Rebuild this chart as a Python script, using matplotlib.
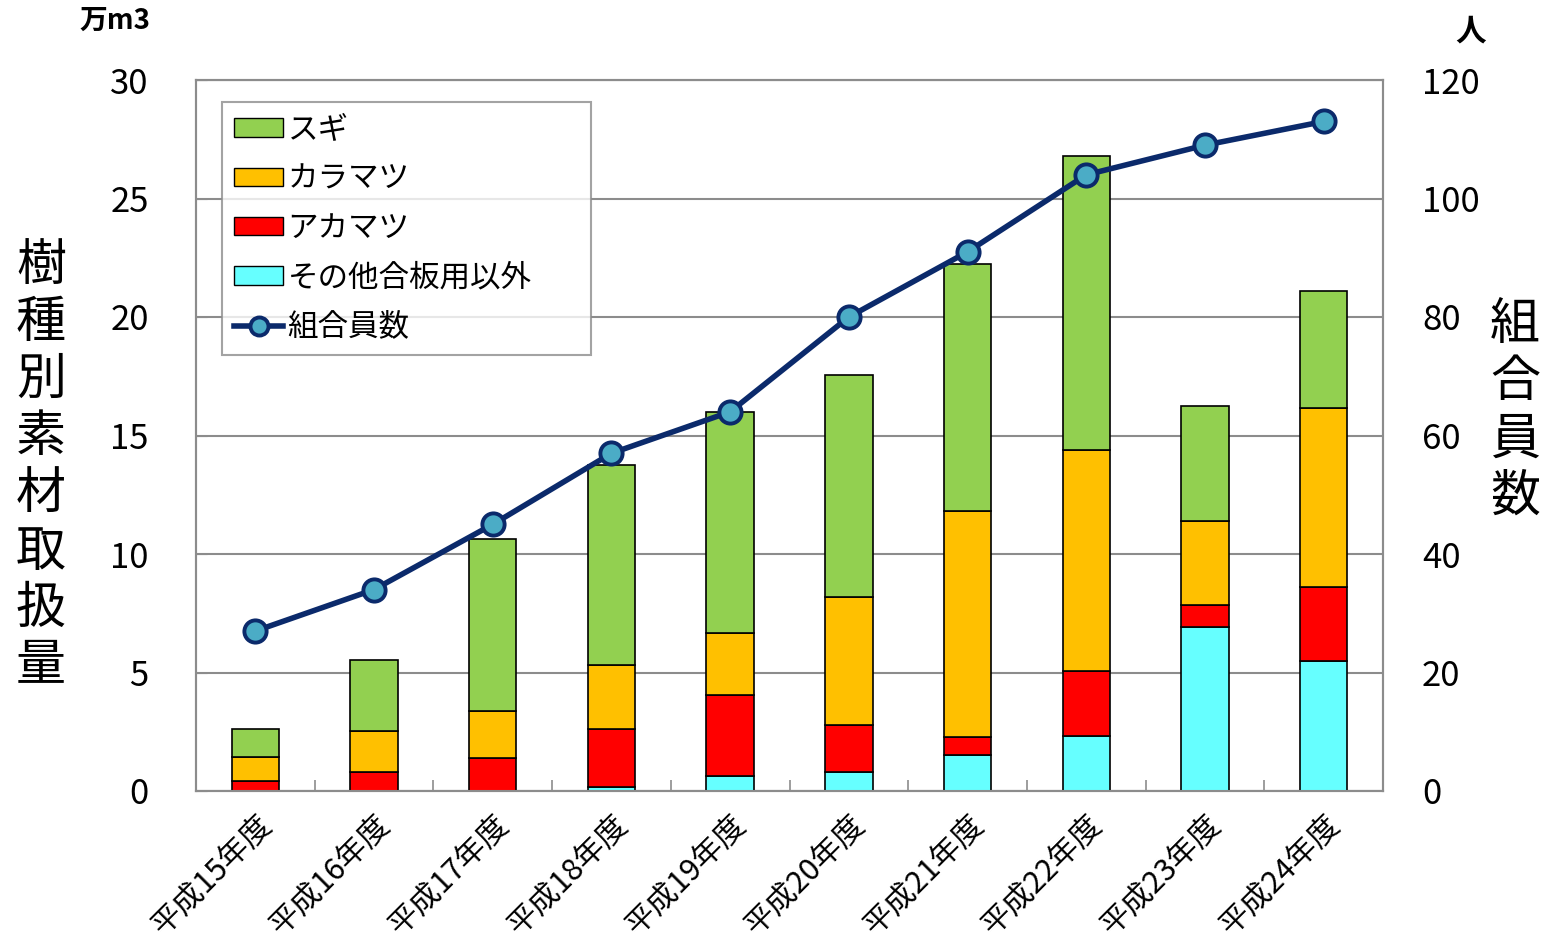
import matplotlib
matplotlib.use("Agg")
import matplotlib.pyplot as plt
import numpy as np
from matplotlib.lines import Line2D
from matplotlib.patches import Patch

plt.rcParams['font.family'] = ['Noto Sans CJK JP', 'DejaVu Sans']

years = ["平成15年度", "平成16年度", "平成17年度", "平成18年度", "平成19年度",
         "平成20年度", "平成21年度", "平成22年度", "平成23年度", "平成24年度"]

# 万m3
sonota = [0.0, 0.0, 0.0, 0.15, 0.63, 0.82, 1.53, 2.32, 6.94, 5.47]
akamatsu = [0.44, 0.80, 1.40, 2.45, 3.42, 1.98, 0.74, 2.76, 0.92, 3.13]
karamatsu = [0.98, 1.73, 1.98, 2.72, 2.62, 5.40, 9.54, 9.30, 3.55, 7.56]
sugi = [1.18, 3.00, 7.25, 8.43, 9.34, 9.35, 10.43, 12.40, 4.83, 4.94]

# 人
members = [27, 34, 45, 57, 64, 80, 91, 104, 109, 113]

c_sugi = "#92d050"
c_kara = "#ffc000"
c_aka = "#ff0000"
c_sonota = "#66ffff"
c_line = "#0b2a6b"
c_marker = "#4bacc6"

fig = plt.figure(figsize=(15.51, 9.52), dpi=100)
ax = fig.add_axes([196 / 1551, 1 - 791 / 952, (1383 - 196) / 1551, (791 - 80) / 952])
ax2 = ax.twinx()

x = np.arange(len(years))
w = 0.4
bottom = np.zeros(len(years))
for vals, col in [(sonota, c_sonota), (akamatsu, c_aka), (karamatsu, c_kara), (sugi, c_sugi)]:
    ax.bar(x, vals, w, bottom=bottom, color=col, edgecolor="black", linewidth=1.2, zorder=3)
    bottom += np.array(vals)

ax2.plot(x, members, color=c_line, linewidth=4, marker="o", markersize=16,
         markerfacecolor=c_marker, markeredgecolor=c_line, markeredgewidth=2.8, zorder=5)

ax.set_xlim(-0.5, len(years) - 0.5)
ax.set_ylim(0, 30)
ax2.set_ylim(0, 120)
ax.set_yticks(np.arange(0, 31, 5))
ax2.set_yticks(np.arange(0, 121, 20))
ax.yaxis.grid(True, color="#8c8c8c", linewidth=1.5, zorder=0)
ax.set_axisbelow(True)

for a in (ax, ax2):
    for s in a.spines.values():
        s.set_color("#8c8c8c")
        s.set_linewidth(1.5)

ax.set_xticks(x)
ax.set_xticklabels(years, rotation=45, ha="right", va="top", rotation_mode="anchor", fontsize=22)
ax.set_xticks(np.arange(len(years) + 1) - 0.5, minor=True)
ax.tick_params(axis="x", which="major", length=0, pad=13)
ax.tick_params(axis="x", which="minor", direction="in", length=8, color="#8c8c8c", width=1.2)
ax.tick_params(axis="y", direction="in", length=8, color="#8c8c8c", labelsize=25, pad=34)
ax2.tick_params(axis="y", direction="in", length=0, labelsize=25, pad=28)

fig.text(41 / 1551, 1 - 466 / 952, "\n".join("樹種別素材取扱量"), fontsize=36,
         ha="center", va="center", linespacing=1.13)
fig.text(1515 / 1551, 1 - 411 / 952, "\n".join("組合員数"), fontsize=36,
         ha="center", va="center", linespacing=1.13)
fig.text(115 / 1551, 1 - 21 / 952, "万m3", fontsize=20, fontweight="bold", ha="center", va="center")
fig.text(1471 / 1551, 1 - 32 / 952, "人", fontsize=22, fontweight="bold", ha="center", va="center")

handles = [
    Patch(facecolor=c_sugi, edgecolor="black"),
    Patch(facecolor=c_kara, edgecolor="black"),
    Patch(facecolor=c_aka, edgecolor="black"),
    Patch(facecolor=c_sonota, edgecolor="black"),
    Line2D([], [], color=c_line, linewidth=4, marker="o", markersize=13,
           markerfacecolor=c_marker, markeredgecolor=c_line, markeredgewidth=2.8),
]
labels = ["スギ", "カラマツ", "アカマツ", "その他合板用以外", "組合員数"]
leg = ax2.legend(handles, labels, loc="upper left",
                 bbox_to_anchor=(26 / 1187, 1 - 22 / 711, 369 / 1187, 0.0), mode="expand",
                 fontsize=22, frameon=True, fancybox=False, edgecolor="#8c8c8c",
                 handlelength=1.6, handleheight=0.55, handletextpad=0.15, labelspacing=0.6,
                 borderpad=0.4, borderaxespad=0)
leg.get_frame().set_linewidth(1.5)

fig.savefig("out.png", dpi=100)
